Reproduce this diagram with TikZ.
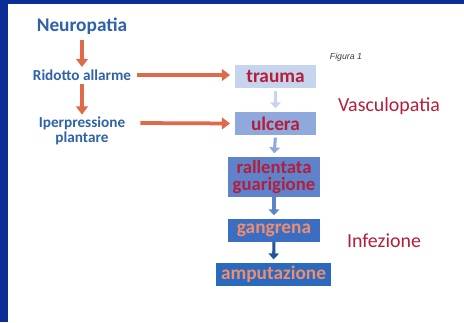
\documentclass[tikz,border=0pt]{standalone}
\usepackage{fontspec}
\setmainfont{Carlito}
\newfontfamily\figfont{Liberation Sans}
\usetikzlibrary{arrows.meta}

\definecolor{frameblue}{HTML}{0A2D96}
\definecolor{causeblue}{HTML}{2F62A8}
\definecolor{arroworange}{HTML}{E0694A}
\definecolor{stagered}{HTML}{B51E3A}
\definecolor{stageorange}{HTML}{EE8E6E}
\definecolor{boxA}{HTML}{C6D4EE}
\definecolor{boxB}{HTML}{8FA9DC}
\definecolor{boxC}{HTML}{5F83CA}
\definecolor{boxD}{HTML}{3B6EC2}
\definecolor{boxE}{HTML}{2B69BE}

\begin{document}
\begin{tikzpicture}[x=0.03cm,y=-0.03cm,
    cause/.style={text=causeblue,font=\bfseries\fontsize{13}{12.5}\selectfont,align=center,inner sep=0pt},
    stage/.style={minimum height=0.69cm,inner sep=0pt,align=center,font=\bfseries\fontsize{16.5}{16}\selectfont},
    factor/.style={text=stagered,font=\fontsize{17}{18}\selectfont,inner sep=0pt},
    redarrow/.style={arroworange,line width=3.2pt,-{Triangle[length=7pt,width=10pt]}},
    bluearrow/.style={line width=2.6pt,-{Triangle[length=5pt,width=9pt]},shorten >=3pt}]
    % frame
    \useasboundingbox (0,0) rectangle (464,322);
    \fill[white] (0,0) rectangle (464,322);
    \fill[frameblue] (0,0) rectangle (8,322);
    \fill[frameblue] (0,0) rectangle (464,4);

    % causes on the left
    \node[cause,font=\bfseries\fontsize{16.5}{18}\selectfont] (neuro) at (82,26) {Neuropatia};
    \node[cause] (allarme) at (82,75) {Ridotto allarme};
    \node[cause] (iper) at (82,131) {Iperpressione\\plantare};

    % stages on the right
    \node[stage,fill=boxA,text=stagered,minimum width=2.43cm] (trauma) at (275.5,76.5) {trauma};
    \node[stage,fill=boxB,text=stagered,minimum width=2.43cm] (ulcera) at (275.5,123.5) {ulcera};
    \node[stage,fill=boxC,text=stagered,minimum width=2.76cm,minimum height=1.2cm,
          font=\bfseries\fontsize{16}{14.5}\selectfont] (rallentata) at (274,177) {rallentata\\guarigione};
    \node[stage,fill=boxD,text=stageorange,minimum width=2.76cm] (gangrena) at (274,230.5) {gangrena};
    \node[stage,fill=boxE,text=stageorange,minimum width=3.45cm] (amputazione) at (273.5,274.5) {amputazione};

    \node[factor] (vasculo) at (389,106) {Vasculopatia};
    \node[factor] (infezione) at (384,241) {Infezione};
    \node[font=\figfont\itshape\fontsize{7.5}{8}\selectfont,text=black!75,inner sep=0pt] (figura) at (346,57) {Figura 1};

    % arrows
    \draw[redarrow,shorten <=5pt,shorten >=2pt] (neuro.south) -- (allarme.north);
    \draw[redarrow,shorten <=3pt,shorten >=2pt] (allarme.south) -- (iper.north);
    \draw[redarrow,shorten <=5pt,shorten >=4pt] (allarme.east) -- (allarme.east -| trauma.west);
    \draw[redarrow,shorten >=4pt] (iper.east |- ulcera.west) ++(15,-0.5) -- (ulcera.west);

    \draw[bluearrow,boxA,shorten <=2pt] (trauma.south) -- (ulcera.north);
    \draw[bluearrow,boxB,shorten <=2pt] (ulcera.south) -- (rallentata.north);
    \draw[bluearrow,boxC] (rallentata.south) -- (gangrena.north);
    \draw[bluearrow,boxE!80!black] (gangrena.south) -- (amputazione.north);
\end{tikzpicture}
\end{document}
